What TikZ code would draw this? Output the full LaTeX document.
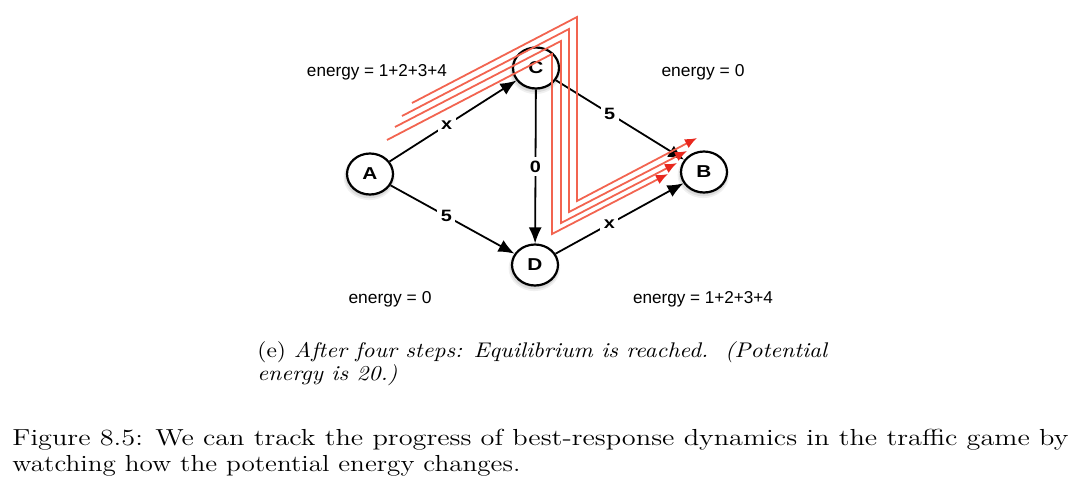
\documentclass[tikz,border=0pt]{standalone}
\usepackage{fontspec}
\usepackage{graphicx}
\newfontfamily\dfont{Liberation Sans}
\usetikzlibrary{arrows.meta,shapes.geometric,shadows}
\newcommand{\sx}[1]{\scalebox{1.21}[1]{#1}}
\definecolor{redline}{RGB}{242,100,80}
\definecolor{redtip}{RGB}{232,40,30}
\newsavebox\subboxA
\sbox\subboxA{\fontsize{10.6}{12.5}\selectfont (e) \textit{After four steps: Equilibrium is reached.\ \ (Potential}}
\pgfmathsetmacro\subfac{285.5/\the\wd\subboxA}
\begin{document}
\begin{tikzpicture}[x=0.5pt,y=-0.5pt,
  vertex/.style={ellipse, draw=black, line width=1.1pt, fill=white,
    minimum width=23pt, minimum height=20.5pt, inner sep=0pt,
    font=\dfont\bfseries\fontsize{8.6}{10}\selectfont,
    drop shadow={shadow xshift=-0.3pt, shadow yshift=-1.4pt, opacity=0.12, shadow scale=1.12},
    drop shadow={shadow xshift=-0.3pt, shadow yshift=-1.2pt, opacity=0.18, shadow scale=1.06},
    drop shadow={shadow xshift=-0.2pt, shadow yshift=-0.8pt, opacity=0.3}},
  edge/.style={line width=0.9pt, -{Latex[length=8pt,width=6.5pt]}},
  elabel/.style={fill=white, inner sep=1.8pt, font=\dfont\bfseries\fontsize{8.2}{9}\selectfont},
  energy/.style={anchor=base, inner sep=0pt, font=\dfont\fontsize{8.6}{10}\selectfont},
  flow/.style={draw=redline, line width=0.9pt, -{Latex[length=6pt,width=5pt,color=redtip]}},
  capline/.style={anchor=base west, inner sep=0pt}
]
\useasboundingbox (0,0) rectangle (1076,482);

% nodes
\node[vertex] (A) at (370,174) {\sx{A}};
\node[vertex] (C) at (536,68) {\sx{C}};
\node[vertex] (D) at (535,265) {\sx{D}};
\node[vertex] (B) at (704,172) {\sx{B}};

% edges
\draw[edge] (A) -- node[elabel, pos=0.45] (lx1) {\sx{x}} (C);
\draw[edge] (A) -- node[elabel, pos=0.45] (l51) {\sx{5}} (D);
\draw[edge] (C) -- node[elabel, pos=0.5] (l0) {\sx{0}} (D);
\draw[edge] (C) -- node[elabel, pos=0.42] (l52) {\sx{5}} (B);
\draw[edge] (D) -- node[elabel, pos=0.42] (lx2) {\sx{x}} (B);

% energy labels
\node[energy] (e1) at (377,76) {\resizebox{70pt}{\height}{energy = 1+2+3+4}};
\node[energy] (e2) at (703,76) {\resizebox{41.5pt}{\height}{energy = 0}};
\node[energy] (e3) at (390,303) {\resizebox{41.5pt}{\height}{energy = 0}};
\node[energy] (e4) at (703,303) {\resizebox{70pt}{\height}{energy = 1+2+3+4}};

% red flow paths
\coordinate (r1a) at (412,103); \coordinate (r1b) at (577,17);
\coordinate (r1c) at (577,201); \coordinate (r1d) at (697,138);
\coordinate (r2a) at (402,116); \coordinate (r2b) at (569,29);
\coordinate (r2c) at (569,212); \coordinate (r2d) at (687,151);
\coordinate (r3a) at (395,127); \coordinate (r3b) at (561,41);
\coordinate (r3c) at (561,223); \coordinate (r3d) at (677,163);
\coordinate (r4a) at (387,140); \coordinate (r4b) at (552,54);
\coordinate (r4c) at (552,234); \coordinate (r4d) at (668,174);
\draw[flow] (r1a) -- (r1b) -- (r1c) -- (r1d);
\draw[flow] (r2a) -- (r2b) -- (r2c) -- (r2d);
\draw[flow] (r3a) -- (r3b) -- (r3c) -- (r3d);
\draw[flow] (r4a) -- (r4b) -- (r4c) -- (r4d);

% sub caption
\node[capline] (s1) at (257,357) {\scalebox{\subfac}[1]{\usebox\subboxA}};
\node[capline] (s2) at (257,380) {\scalebox{\subfac}[1]{\fontsize{10.6}{12.5}\selectfont\itshape energy is 20.)}};

% figure caption
\node[capline] (c1) at (12,445) {\resizebox{528pt}{\height}{\fontsize{11.6}{14}\selectfont Figure 8.5: We can track the progress of best-response dynamics in the traffic game by}};
\node[capline] (c2) at (12,471) {\resizebox{254pt}{\height}{\fontsize{11.6}{14}\selectfont watching how the potential energy changes.}};
\end{tikzpicture}
\end{document}
